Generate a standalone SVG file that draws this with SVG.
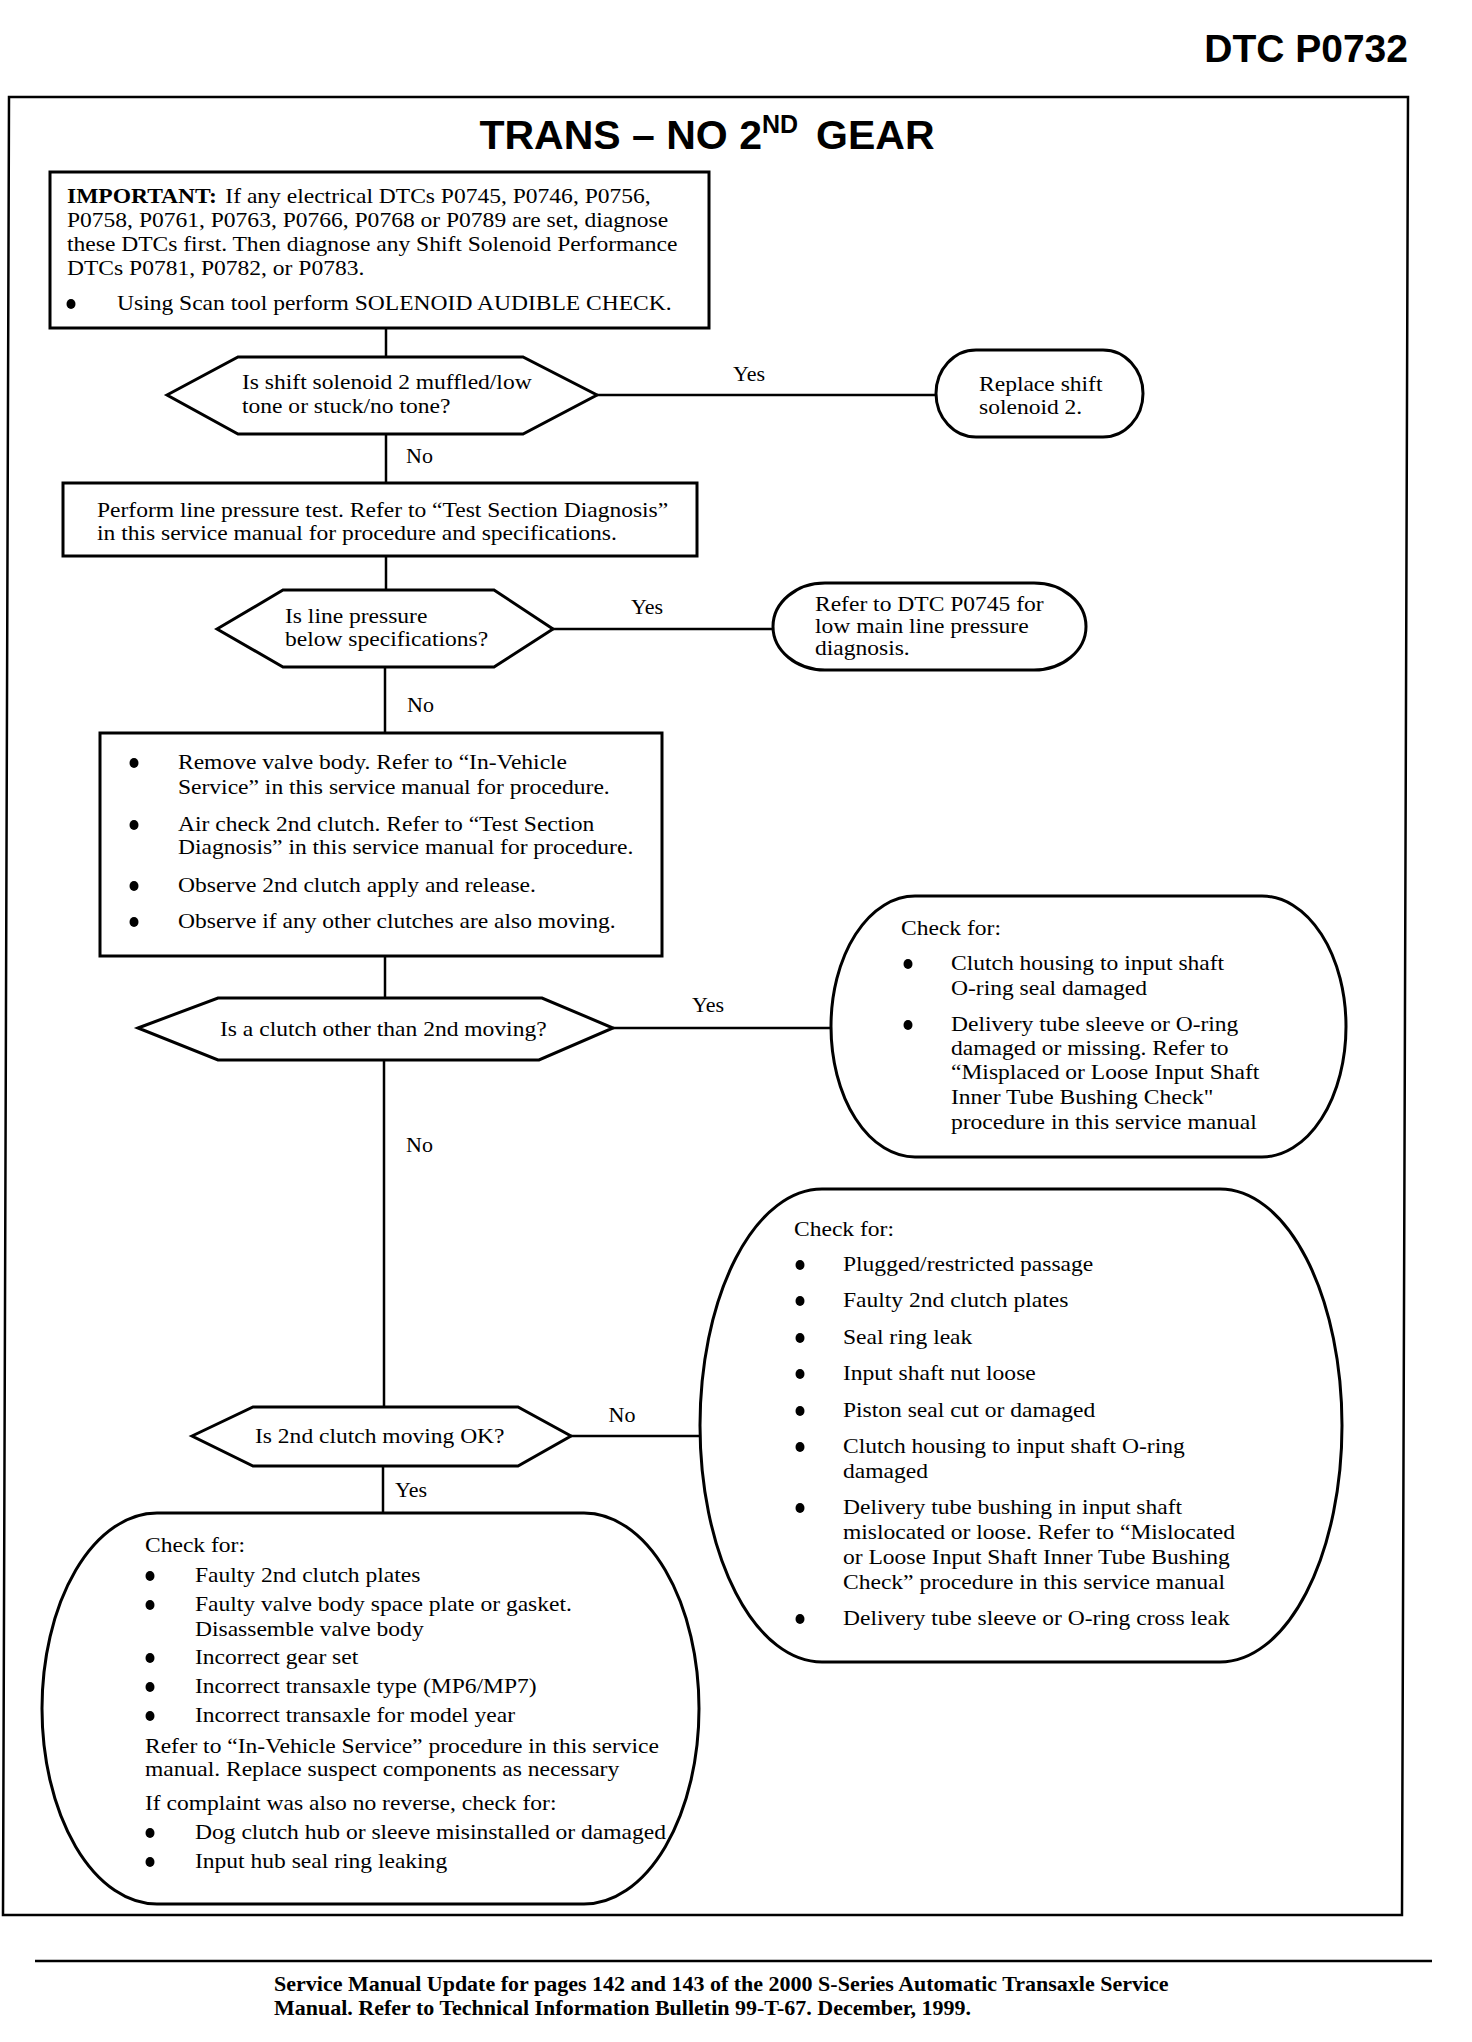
<svg xmlns="http://www.w3.org/2000/svg" width="1472" height="2042" viewBox="0 0 1472 2042">
<style>
.s{fill:#fff;stroke:#000;stroke-width:3}
.c{fill:none;stroke:#000;stroke-width:2.5}
.t{font-family:"Liberation Serif","Times New Roman",serif;font-size:22px;fill:#000;transform-box:fill-box;transform-origin:0 0;transform:scaleX(1.07)}
.l{font-family:"Liberation Serif","Times New Roman",serif;font-size:22px;fill:#000}
.f{font-family:"Liberation Serif","Times New Roman",serif;font-size:22px;font-weight:bold;fill:#000}
.h{font-family:"Liberation Sans",Arial,sans-serif;font-weight:bold;fill:#000}
.d{fill:#000}
</style>
<rect x="0" y="0" width="1472" height="2042" fill="#fff"/>
<text class="h" x="1408" y="62" font-size="39" text-anchor="end">DTC P0732</text>
<polygon points="9,97 1408,97 1402,1915 3,1915" fill="none" stroke="#000" stroke-width="2.5"/>
<text class="h" x="707" y="149" font-size="41" text-anchor="middle">TRANS – NO 2<tspan font-size="25" dy="-16">ND</tspan><tspan dy="16" dx="18">GEAR</tspan></text>

<g id="connectors">
<line class="c" x1="386" y1="328" x2="386" y2="357"/>
<line class="c" x1="386" y1="434" x2="386" y2="483"/>
<line class="c" x1="386" y1="556" x2="386" y2="590"/>
<line class="c" x1="385" y1="667" x2="385" y2="733"/>
<line class="c" x1="385" y1="956" x2="385" y2="998"/>
<line class="c" x1="384" y1="1060" x2="384" y2="1407"/>
<line class="c" x1="383" y1="1466" x2="383" y2="1513"/>
<line class="c" x1="597" y1="395" x2="936" y2="395"/>
<line class="c" x1="553" y1="629" x2="773" y2="629"/>
<line class="c" x1="613" y1="1028" x2="831" y2="1028"/>
<line class="c" x1="571" y1="1436" x2="700" y2="1436"/>
<text class="l" x="749" y="381" text-anchor="middle">Yes</text>
<text class="l" x="406" y="463">No</text>
<text class="l" x="647" y="614" text-anchor="middle">Yes</text>
<text class="l" x="407" y="712">No</text>
<text class="l" x="708" y="1012" text-anchor="middle">Yes</text>
<text class="l" x="406" y="1152">No</text>
<text class="l" x="622" y="1422" text-anchor="middle">No</text>
<text class="l" x="395" y="1497">Yes</text>
</g>

<g id="important">
<rect class="s" x="50" y="172" width="659" height="156"/>
<text class="t" x="67" y="203"><tspan font-weight="bold">IMPORTANT:</tspan><tspan x="215">If any electrical DTCs P0745, P0746, P0756,</tspan></text>
<text class="t" x="67" y="227">P0758, P0761, P0763, P0766, P0768 or P0789 are set, diagnose</text>
<text class="t" x="67" y="251">these DTCs first. Then diagnose any Shift Solenoid Performance</text>
<text class="t" x="67" y="275">DTCs P0781, P0782, or P0783.</text>
<ellipse class="d" cx="71" cy="304" rx="4.5" ry="5"/>
<text class="t" x="117" y="310">Using Scan tool perform SOLENOID AUDIBLE CHECK.</text>
</g>

<g id="q1">
<polygon class="s" points="167,395 238,357 523,357 597,395 523,434 238,434"/>
<text class="t" x="242" y="389">Is shift solenoid 2 muffled/low</text>
<text class="t" x="242" y="413">tone or stuck/no tone?</text>
</g>

<g id="replace">
<rect class="s" x="936" y="350" width="207" height="87" rx="40" ry="43.5"/>
<text class="t" x="979" y="391">Replace shift</text>
<text class="t" x="979" y="414">solenoid 2.</text>
</g>

<g id="linepressure">
<rect class="s" x="63" y="483" width="634" height="73"/>
<text class="t" x="97" y="517">Perform line pressure test. Refer to “Test Section Diagnosis”</text>
<text class="t" x="97" y="540">in this service manual for procedure and specifications.</text>
</g>

<g id="q2">
<polygon class="s" points="217,629 283,590 494,590 553,629 494,667 283,667"/>
<text class="t" x="285" y="623">Is line pressure</text>
<text class="t" x="285" y="646">below specifications?</text>
</g>

<g id="refer">
<rect class="s" x="773" y="583" width="313" height="87" rx="52" ry="43.5"/>
<text class="t" x="815" y="611">Refer to DTC P0745 for</text>
<text class="t" x="815" y="633">low main line pressure</text>
<text class="t" x="815" y="655">diagnosis.</text>
</g>

<g id="valvebody">
<rect class="s" x="100" y="733" width="562" height="223"/>
<ellipse class="d" cx="134" cy="763" rx="4.5" ry="5"/>
<text class="t" x="178" y="769">Remove valve body. Refer to “In-Vehicle</text>
<text class="t" x="178" y="794">Service” in this service manual for procedure.</text>
<ellipse class="d" cx="134" cy="825" rx="4.5" ry="5"/>
<text class="t" x="178" y="831">Air check 2nd clutch. Refer to “Test Section</text>
<text class="t" x="178" y="854">Diagnosis” in this service manual for procedure.</text>
<ellipse class="d" cx="134" cy="886" rx="4.5" ry="5"/>
<text class="t" x="178" y="892">Observe 2nd clutch apply and release.</text>
<ellipse class="d" cx="134" cy="922" rx="4.5" ry="5"/>
<text class="t" x="178" y="928">Observe if any other clutches are also moving.</text>
</g>

<g id="q3">
<polygon class="s" points="138,1028 218,998 542,998 613,1028 539,1060 218,1060"/>
<text class="t" x="220" y="1036">Is a clutch other than 2nd moving?</text>
</g>

<g id="check1">
<rect class="s" x="831" y="896" width="515" height="261" rx="84" ry="130.5"/>
<text class="t" x="901" y="935">Check for:</text>
<ellipse class="d" cx="908" cy="964" rx="4.5" ry="5"/>
<text class="t" x="951" y="970">Clutch housing to input shaft</text>
<text class="t" x="951" y="995">O-ring seal damaged</text>
<ellipse class="d" cx="908" cy="1025" rx="4.5" ry="5"/>
<text class="t" x="951" y="1031">Delivery tube sleeve or O-ring</text>
<text class="t" x="951" y="1055">damaged or missing. Refer to</text>
<text class="t" x="951" y="1079">“Misplaced or Loose Input Shaft</text>
<text class="t" x="951" y="1104">Inner Tube Bushing Check"</text>
<text class="t" x="951" y="1129">procedure in this service manual</text>
</g>

<g id="q4">
<polygon class="s" points="192,1436 253,1407 518,1407 571,1436 518,1466 253,1466"/>
<text class="t" x="255" y="1443">Is 2nd clutch moving OK?</text>
</g>

<g id="check2">
<rect class="s" x="700" y="1189" width="642" height="473" rx="122" ry="236.5"/>
<text class="t" x="794" y="1236">Check for:</text>
<ellipse class="d" cx="800" cy="1265" rx="4.5" ry="5"/>
<text class="t" x="843" y="1271">Plugged/restricted passage</text>
<ellipse class="d" cx="800" cy="1301" rx="4.5" ry="5"/>
<text class="t" x="843" y="1307">Faulty 2nd clutch plates</text>
<ellipse class="d" cx="800" cy="1338" rx="4.5" ry="5"/>
<text class="t" x="843" y="1344">Seal ring leak</text>
<ellipse class="d" cx="800" cy="1374" rx="4.5" ry="5"/>
<text class="t" x="843" y="1380">Input shaft nut loose</text>
<ellipse class="d" cx="800" cy="1411" rx="4.5" ry="5"/>
<text class="t" x="843" y="1417">Piston seal cut or damaged</text>
<ellipse class="d" cx="800" cy="1447" rx="4.5" ry="5"/>
<text class="t" x="843" y="1453">Clutch housing to input shaft O-ring</text>
<text class="t" x="843" y="1478">damaged</text>
<ellipse class="d" cx="800" cy="1508" rx="4.5" ry="5"/>
<text class="t" x="843" y="1514">Delivery tube bushing in input shaft</text>
<text class="t" x="843" y="1539">mislocated or loose. Refer to “Mislocated</text>
<text class="t" x="843" y="1564">or Loose Input Shaft Inner Tube Bushing</text>
<text class="t" x="843" y="1589">Check” procedure in this service manual</text>
<ellipse class="d" cx="800" cy="1619" rx="4.5" ry="5"/>
<text class="t" x="843" y="1625">Delivery tube sleeve or O-ring cross leak</text>
</g>

<g id="check3">
<rect class="s" x="42" y="1513" width="657" height="391" rx="115" ry="195.5"/>
<text class="t" x="145" y="1552">Check for:</text>
<ellipse class="d" cx="150" cy="1576" rx="4.5" ry="5"/>
<text class="t" x="195" y="1582">Faulty 2nd clutch plates</text>
<ellipse class="d" cx="150" cy="1605" rx="4.5" ry="5"/>
<text class="t" x="195" y="1611">Faulty valve body space plate or gasket.</text>
<text class="t" x="195" y="1636">Disassemble valve body</text>
<ellipse class="d" cx="150" cy="1658" rx="4.5" ry="5"/>
<text class="t" x="195" y="1664">Incorrect gear set</text>
<ellipse class="d" cx="150" cy="1687" rx="4.5" ry="5"/>
<text class="t" x="195" y="1693">Incorrect transaxle type (MP6/MP7)</text>
<ellipse class="d" cx="150" cy="1716" rx="4.5" ry="5"/>
<text class="t" x="195" y="1722">Incorrect transaxle for model year</text>
<text class="t" x="145" y="1753">Refer to “In-Vehicle Service” procedure in this service</text>
<text class="t" x="145" y="1776">manual. Replace suspect components as necessary</text>
<text class="t" x="145" y="1810">If complaint was also no reverse, check for:</text>
<ellipse class="d" cx="150" cy="1833" rx="4.5" ry="5"/>
<text class="t" x="195" y="1839">Dog clutch hub or sleeve misinstalled or damaged</text>
<ellipse class="d" cx="150" cy="1862" rx="4.5" ry="5"/>
<text class="t" x="195" y="1868">Input hub seal ring leaking</text>
</g>

<line x1="35" y1="1961" x2="1432" y2="1961" stroke="#000" stroke-width="2.5"/>
<text class="f" x="274" y="1991">Service Manual Update for pages 142 and 143 of the 2000 S-Series Automatic Transaxle Service</text>
<text class="f" x="274" y="2015">Manual. Refer to Technical Information Bulletin 99-T-67. December, 1999.</text>
</svg>
